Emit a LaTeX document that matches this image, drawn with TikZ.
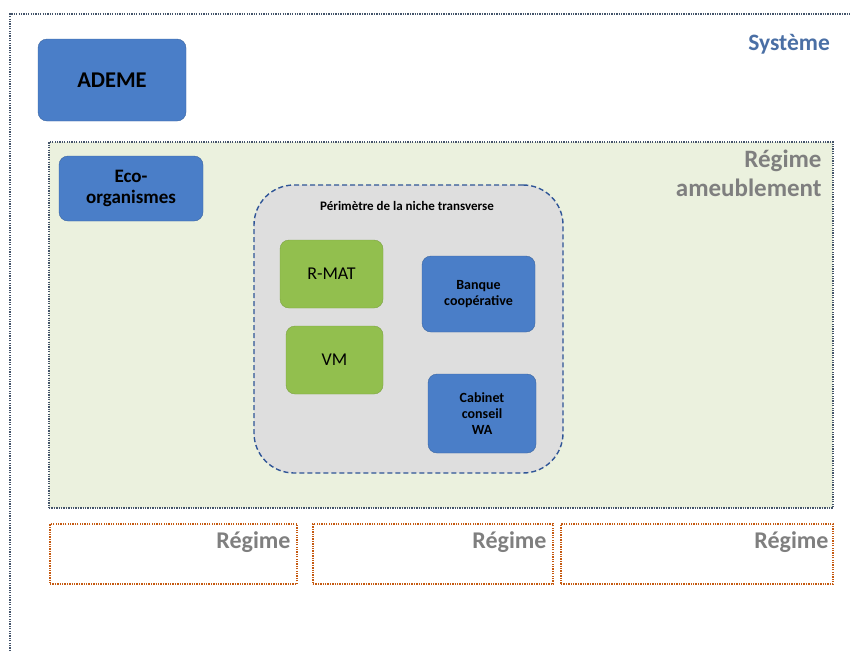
\documentclass[tikz,border=0pt]{standalone}
\usepackage{fontspec}
\setmainfont{Carlito}
\usetikzlibrary{positioning}
\definecolor{actorblue}{HTML}{4A7EC8}
\definecolor{actorgreen}{HTML}{92BF4E}
\definecolor{regimegreen}{HTML}{EBF1DE}
\definecolor{nichegray}{HTML}{DEDEDE}
\definecolor{dotblue}{HTML}{44546A}
\definecolor{dashblue}{HTML}{2F5597}
\definecolor{dotorange}{HTML}{C55A11}
\definecolor{labelgray}{HTML}{7F7F7F}
\definecolor{labelblue}{HTML}{4A6FA5}
\newcommand{\fsz}[1]{\fontsize{#1}{1.13\dimexpr#1pt\relax}\selectfont}
\begin{document}
\begin{tikzpicture}[x=1pt, y=-1pt,
  bluebox/.style={rounded corners=9pt, fill=actorblue, draw=actorblue!80!black, line width=0.4pt, align=center, inner sep=2pt},
  greenbox/.style={rounded corners=9pt, fill=actorgreen, draw=actorgreen!85!black, line width=0.4pt, align=center, inner sep=2pt},
  dotline/.style={dash pattern=on 1.3pt off 1.1pt, line width=1.5pt},
  regimebox/.style={draw=dotorange, dotline, minimum width=#1, minimum height=60pt, inner sep=0pt},
  regimelabel/.style={text=labelgray, font=\bfseries\fsz{24}, align=right, inner sep=0pt}]

\useasboundingbox (0,0) rectangle (850,651);

% system frame (open at the right and bottom)
\draw[dotblue, dotline] (10,651) -- (10,14) -- (850,14);
\node[text=labelblue, font=\bfseries\fsz{23.5}, anchor=north east, inner sep=0pt] (systeme) at (830,34) {Système};

\node[bluebox, minimum width=148pt, minimum height=82pt, font=\bfseries\fsz{22.5}] (ademe) at (112,80) {ADEME};

% regime ameublement
\node[draw=dotblue, dotline, fill=regimegreen, minimum width=784pt, minimum height=366pt, inner sep=0pt] (ameub) at (441,325) {};
\node[regimelabel, anchor=north east, font=\bfseries\fsz{25}] (ameublabel) at ([xshift=-12pt, yshift=-9pt]ameub.north east) {Régime\\ameublement};

\node[bluebox, minimum width=144pt, minimum height=65pt, font=\bfseries\fsz{19}] (eco) at (131,188.5) {Eco-\\organismes};

% niche transverse
\node[draw=dashblue, dash pattern=on 5pt off 3pt, line width=1.4pt, fill=nichegray, rounded corners=40pt, minimum width=309pt, minimum height=288pt, inner sep=0pt] (niche) at (408.5,329) {};
\node[font=\bfseries\fsz{13}, inner sep=0pt] (nichetitle) at (407,206) {Périmètre de la niche transverse};

\node[greenbox, minimum width=103pt, minimum height=68pt, font=\fsz{18}] (rmat) at (331.5,274) {R-MAT};
\node[greenbox, minimum width=97pt, minimum height=68pt, font=\fsz{18}] (vm) at (334.5,360) {VM};
\node[bluebox, minimum width=113pt, minimum height=76pt, font=\bfseries\fsz{14}] (banque) at (478.5,294) {Banque\\coopérative};
\node[bluebox, minimum width=108pt, minimum height=79pt, font=\bfseries\fsz{14}] (cabinet) at (482,413.5) {Cabinet\\conseil\\WA};

% other regimes
\node[regimebox=247pt] (regimea) at (173.5,554) {};
\node[regimebox=240pt] (regimeb) at (433,554) {};
\node[regimebox=272pt] (regimec) at (697,554) {};
\node[regimelabel, anchor=north east] (regimealabel) at ([xshift=-7pt, yshift=-8pt]regimea.north east) {Régime};
\node[regimelabel, anchor=north east] (regimeblabel) at ([xshift=-7pt, yshift=-8pt]regimeb.north east) {Régime};
\node[regimelabel, anchor=north east] (regimeclabel) at ([xshift=-5pt, yshift=-8pt]regimec.north east) {Régime};
\end{tikzpicture}
\end{document}
